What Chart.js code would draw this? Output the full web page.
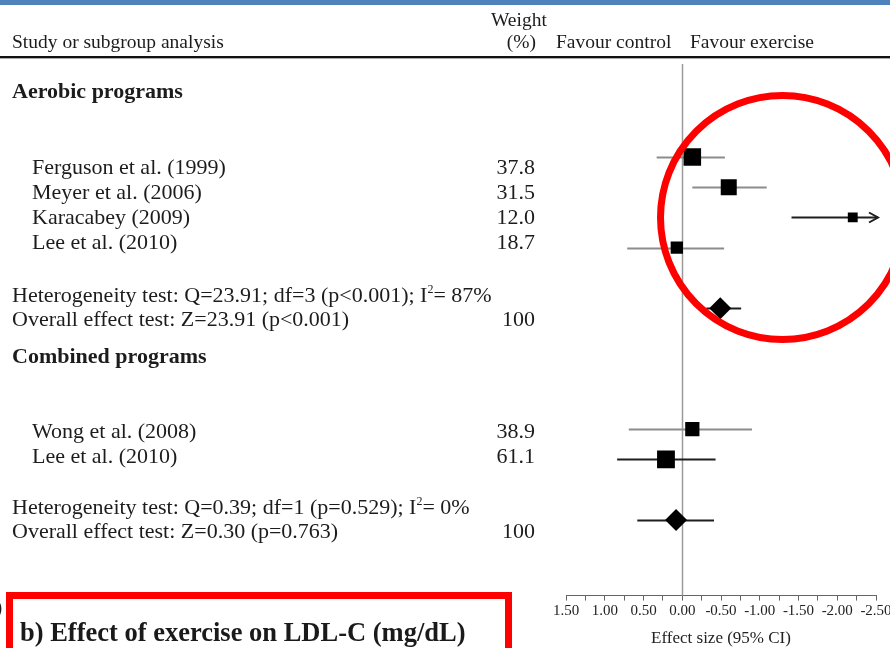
<!DOCTYPE html>
<html>
<head>
<meta charset="utf-8">
<script src="https://cdn.jsdelivr.net/npm/chart.js@4.4.1/dist/chart.umd.min.js"></script>
<style>
  html, body { margin: 0; padding: 0; background: #fff; }
  #wrap { position: relative; width: 890px; height: 648px; overflow: hidden; background: #fff;
          font-family: 'Liberation Serif', 'Times New Roman', serif; color: #1c1c1c; }
  #topbar { position: absolute; left: 0; top: 0; width: 890px; height: 5px; background: #4f81bd; }
  #rule { position: absolute; left: 0; top: 56px; width: 890px; height: 2px; background: #111; border-bottom: 1px solid #aaa; }
  #cv { position: absolute; left: 0; top: 0; }
  .t { position: absolute; white-space: nowrap; line-height: 1; transform: translateY(-50%); }
  .hd { font-size: 19.5px; }
  .rw { font-size: 22px; }
  .b { font-weight: bold; }
  #ring { position: absolute; left: 657px; top: 92px; width: 251px; height: 251px; box-sizing: border-box;
          border: 7px solid #f00; border-radius: 50%; }
  #box { position: absolute; left: 6px; top: 592px; width: 506px; height: 80px; box-sizing: border-box;
         border: 7px solid #f00; background: #fff; }
  #cap { font-size: 26.5px; font-weight: bold; color: #1a1a1a; }
</style>
</head>
<body>
<div id="wrap">
  <div id="topbar"></div>
  <canvas id="cv" width="930" height="651"></canvas>
  <div id="rule"></div>
  <div id="ring"></div>
  <div id="box"></div>
</div>
<script>
// ---- data (effect size, 95% CI; positive = favours control) ----
const aerobicStudies = ['Ferguson et al. (1999)', 'Meyer et al. (2006)', 'Karacabey (2009)', 'Lee et al. (2010)'];
const aerobicWeight  = [37.8, 31.5, 12.0, 18.7];
const aerobicEffect  = [-0.13, -0.60, -2.20, 0.07];
const aerobicLo      = [-0.55, -1.09, -2.90, -0.54];
const aerobicHi      = [0.33, -0.13, -1.41, 0.71];
const aerobicRows    = [3, 4, 5, 6];

const combinedStudies = ['Wong et al. (2008)', 'Lee et al. (2010)'];
const combinedWeight  = [38.9, 61.1];
const combinedEffect  = [-0.13, 0.21];
const combinedLo      = [-0.90, -0.43];
const combinedHi      = [0.69, 0.84];
const combinedRows    = [12, 13];

const overallEffect = [-0.49, 0.08];
const overallLo     = [-0.76, -0.41];
const overallHi     = [-0.31, 0.58];
const overallRows   = [8, 15];

const subgroups  = ['Aerobic programs', 'Combined programs'];
const heteroText = ['Heterogeneity test: Q=23.91; df=3 (p<0.001); I<sup>2</sup>= 87%',
                    'Heterogeneity test: Q=0.39; df=1 (p=0.529); I<sup>2</sup>= 0%'];
const overallText = ['Overall effect test: Z=23.91 (p<0.001)', 'Overall effect test: Z=0.30 (p=0.763)'];
const overallWeight = [100, 100];

const xTicks = [1.5, 1.0, 0.5, 0.0, -0.5, -1.0, -1.5, -2.0, -2.5];

// ---- styles ----
const GREY = '#8c8c8c', DARK = '#1e1e1e';
const aerobicTone  = [GREY, GREY, DARK, GREY];
const combinedTone = [GREY, DARK];
const overallTone  = [DARK, DARK];
const BOX_K = { aerobic: 2.85, combined: 2.28 };

// ---- table text ----
const wrap = document.getElementById('wrap');
function put(html, cls, x, y, right) {
  const d = document.createElement('div');
  d.className = 't ' + cls;
  d.innerHTML = html;
  d.style.top = y + 'px';
  if (right) d.style.right = (890 - x) + 'px'; else d.style.left = x + 'px';
  wrap.insertBefore(d, document.getElementById('ring'));
  return d;
}
put('Weight', 'hd', 491, 20);
put('Study or subgroup analysis', 'hd', 12, 42);
put('(%)', 'hd', 536, 42, true);
put('Favour control', 'hd', 556, 42);
put('Favour exercise', 'hd', 690, 42);

const groupTop   = [91, 356];
const studyTop   = [167, 431];
const heteroTop  = [294, 506];
const PITCH = 25;
[[aerobicStudies, aerobicWeight], [combinedStudies, combinedWeight]].forEach(([names, wts], g) => {
  put(subgroups[g], 'rw b', 12, groupTop[g]);
  names.forEach((n, i) => {
    put(n, 'rw', 32, studyTop[g] + i * PITCH);
    put(wts[i].toFixed(1), 'rw', 535, studyTop[g] + i * PITCH, true);
  });
  put(heteroText[g], 'rw', 12, heteroTop[g]).querySelector('sup').style.cssText = 'font-size:12px;vertical-align:9px';
  put(overallText[g], 'rw', 12, heteroTop[g] + PITCH);
  put(String(overallWeight[g]), 'rw', 535, heteroTop[g] + PITCH, true);
});
put(')', 'rw', -5, 607);
const cap = put('b) Effect of exercise on LDL-C (mg/dL)', '', 20, 632);
cap.id = 'cap';
wrap.appendChild(cap);

// ---- forest plot ----
const rows = [];
aerobicRows.forEach((r, i) => rows.push({ row: r, lo: aerobicLo[i], hi: aerobicHi[i], tone: aerobicTone[i] }));
combinedRows.forEach((r, i) => rows.push({ row: r, lo: combinedLo[i], hi: combinedHi[i], tone: combinedTone[i] }));
overallRows.forEach((r, i) => rows.push({ row: r, lo: overallLo[i], hi: overallHi[i], tone: overallTone[i] }));

const forestLines = {
  id: 'forestLines',
  beforeDatasetsDraw(chart) {
    const { ctx, chartArea: a, scales: { x, y } } = chart;
    ctx.save();
    const x0 = Math.round(x.getPixelForValue(0)) + 0.5;
    ctx.strokeStyle = '#9a9a9a'; ctx.lineWidth = 1.5;
    ctx.beginPath(); ctx.moveTo(x0, a.top); ctx.lineTo(x0, a.bottom); ctx.stroke();
    ctx.lineWidth = 2;
    rows.forEach(r => {
      const py = Math.round(y.getPixelForValue(r.row)) + 0.5;
      const pl = x.getPixelForValue(Math.min(r.hi, x.max));
      const cut = r.lo < x.min;
      const pr = cut ? a.right + 2 : x.getPixelForValue(r.lo);
      ctx.strokeStyle = r.tone;
      ctx.beginPath(); ctx.moveTo(pl, py); ctx.lineTo(pr, py); ctx.stroke();
      if (cut) {
        ctx.beginPath();
        ctx.moveTo(pr - 9, py - 5); ctx.lineTo(pr, py); ctx.lineTo(pr - 9, py + 5);
        ctx.stroke();
      }
    });
    ctx.restore();
  }
};

const boxR = (w, k) => Math.sqrt(w) * k / Math.SQRT2;

new Chart(document.getElementById('cv'), {
  type: 'scatter',
  data: {
    datasets: [
      { data: aerobicEffect.map((v, i) => ({ x: v, y: aerobicRows[i] })),
        pointStyle: 'rect', pointRadius: aerobicWeight.map(w => boxR(w, BOX_K.aerobic)),
        backgroundColor: '#000', borderWidth: 0 },
      { data: combinedEffect.map((v, i) => ({ x: v, y: combinedRows[i] })),
        pointStyle: 'rect', pointRadius: combinedWeight.map(w => boxR(w, BOX_K.combined)),
        backgroundColor: '#000', borderWidth: 0 },
      { data: overallEffect.map((v, i) => ({ x: v, y: overallRows[i] })),
        pointStyle: 'rectRot', pointRadius: 11, backgroundColor: '#000', borderWidth: 0 },
    ],
  },
  options: {
    responsive: false, animation: false, events: [],
    layout: { padding: { left: 566, right: 54, top: 64, bottom: 2 } },
    plugins: { legend: { display: false }, tooltip: { enabled: false } },
    scales: {
      x: {
        type: 'linear', reverse: true, min: -2.5, max: 1.5,
        grid: { drawOnChartArea: false, drawTicks: true, tickLength: 5, color: '#666' },
        border: { display: true, color: '#666', width: 1 },
        ticks: {
          stepSize: 0.25, autoSkip: false, maxRotation: 0, minRotation: 0, padding: 3,
          color: '#222', font: { family: 'Liberation Serif', size: 15, lineHeight: 1 },
          callback: v => xTicks.some(t => Math.abs(t - v) < 1e-6) ? v.toFixed(2) : '',
        },
        title: { display: true, text: 'Effect size (95% CI)', color: '#222', padding: { top: 7, bottom: 0 },
                 font: { family: 'Liberation Serif', size: 17, lineHeight: 1.2 } },
      },
      y: { type: 'linear', reverse: true, min: -0.07, max: 17.5, display: false },
    },
  },
  plugins: [forestLines],
});
</script>
</body>
</html>
